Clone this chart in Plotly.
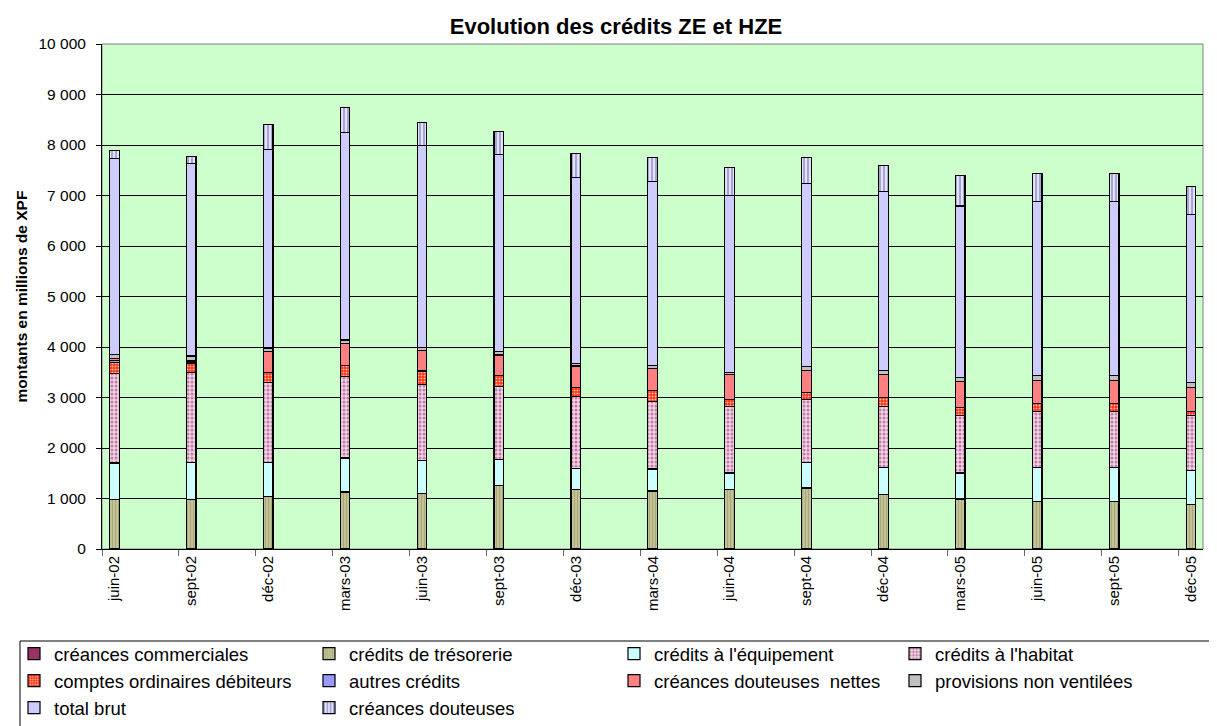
import plotly.graph_objects as go

# periods (quarterly)
periods = ["juin-02", "sept-02", "déc-02", "mars-03", "juin-03", "sept-03", "déc-03", "mars-04",
           "juin-04", "sept-04", "déc-04", "mars-05", "juin-05", "sept-05", "déc-05"]

# stacked series, bottom to top (millions de XPF)
creances_commerciales = [0, 0, 0, 0, 0, 0, 0, 0, 0, 0, 0, 0, 0, 0, 0]
credits_tresorerie = [978, 978, 1044, 1130, 1097, 1256, 1176, 1150, 1176, 1210, 1077, 991, 939, 936, 879]
credits_equipement = [727, 740, 674, 674, 654, 515, 423, 436, 331, 508, 542, 516, 680, 683, 674]
credits_habitat = [1771, 1785, 1586, 1606, 1501, 1454, 1428, 1342, 1322, 1243, 1210, 1137, 1104, 1104, 1091]
comptes_ordinaires = [225, 165, 186, 225, 271, 218, 179, 211, 132, 132, 178, 152, 159, 159, 80]
autres_credits = [25, 25, 0, 0, 0, 0, 0, 0, 0, 0, 0, 0, 0, 0, 0]
creances_douteuses_nettes = [41, 28, 416, 430, 410, 397, 416, 430, 489, 443, 450, 515, 462, 462, 482]
provisions_non_ventilees = [86, 99, 73, 72, 52, 66, 59, 66, 53, 79, 79, 86, 93, 93, 99]
total_brut = [3880, 3807, 3939, 4118, 3999, 3913, 3682, 3642, 3503, 3616, 3536, 3397, 3437, 3437, 3324]
creances_douteuses = [152, 139, 482, 483, 469, 456, 469, 482, 549, 522, 529, 595, 561, 561, 542]

series = [
    ("créances commerciales", creances_commerciales, "#993366", None),
    ("crédits de trésorerie", credits_tresorerie, "#C2C294", dict(shape="|", fgcolor="#A5A57A", size=3, solidity=0.3)),
    ("crédits à l'équipement", credits_equipement, "#CCFFFF", None),
    ("crédits à l'habitat", credits_habitat, "#F2D2E6", dict(shape=".", fgcolor="#C080A6", size=4, solidity=0.45)),
    ("comptes ordinaires débiteurs", comptes_ordinaires, "#FF2A10", dict(shape=".", fgcolor="#FFC0A0", size=3, solidity=0.4)),
    ("autres crédits", autres_credits, "#9999FF", None),
    ("créances douteuses  nettes", creances_douteuses_nettes, "#FF8080", None),
    ("provisions non ventilées", provisions_non_ventilees, "#C0C0C0", None),
    ("total brut", total_brut, "#CCCCFF", None),
    ("créances douteuses", creances_douteuses, "#E2E2FF", dict(shape="|", fgcolor="#7C7CB8", size=4, solidity=0.3)),
]

xpos = list(range(len(periods)))
offset = 0.16

# legend is laid out in 4 columns, filled row by row
legend_ids = ["legend", "legend2", "legend3", "legend4"]

fig = go.Figure()
for i, (name, values, color, pattern) in enumerate(series):
    marker = dict(color=color, line=dict(color="black", width=1.2))
    if pattern:
        marker["pattern"] = dict(bgcolor=color, fillmode="replace", **pattern)
    fig.add_trace(go.Bar(x=xpos, y=values, name=name, width=0.125, marker=marker,
                         legend=legend_ids[i % 4]))

# the page body adds an 8px margin, so the figure is 8px smaller than the window
W, H = 1209, 718
ML, MR, MT, MB = 94, 14, 36, 177
PW, PH = W - ML - MR, H - MT - MB
font = "Liberation Sans, Arial, sans-serif"

def legend_at(px):
    return dict(orientation="v", traceorder="normal",
                x=px / W, xref="container", xanchor="left",
                y=1 - 627 / H, yref="container", yanchor="top",
                borderwidth=0, bgcolor="rgba(0,0,0,0)",
                font=dict(size=18.5, family=font), itemwidth=30)

# legend frame (paper px -> paper fraction)
frame_l, frame_r, frame_t, frame_b = 12, 1202, 633, 740

fig.update_layout(
    width=W, height=H,
    barmode="stack",
    separators=", ",
    paper_bgcolor="white",
    plot_bgcolor="#CCFFCC",
    font=dict(family=font, size=15, color="black"),
    margin=dict(l=ML, r=MR, t=MT, b=MB, autoexpand=False),
    title=dict(text="<b>Evolution des crédits ZE et HZE</b>", font=dict(size=22, family=font),
               x=608 / W, xref="container", xanchor="center",
               y=1 - 18 / H, yref="container", yanchor="middle"),
    xaxis=dict(
        range=[-offset, len(periods) - 1 + 0.156],
        tickmode="array", tickvals=xpos, ticktext=periods, tickangle=-90,
        ticks="", showgrid=False, zeroline=False,
        showline=True, linecolor="black", linewidth=1,
        tickfont=dict(size=15),
        minor=dict(tickmode="array", tickvals=[i - offset for i in xpos],
                   ticks="outside", ticklen=6, tickcolor="#666666", showgrid=False),
        automargin=False,
    ),
    yaxis=dict(
        range=[0, 10000], dtick=1000, tickformat=",d",
        showgrid=True, gridcolor="black", gridwidth=1,
        ticks="outside", ticklen=5, tickcolor="black", ticklabelstandoff=7,
        showline=True, linecolor="black", linewidth=1, zeroline=False,
        tickfont=dict(size=15.5),
        automargin=False,
    ),
    legend=legend_at(6),
    legend2=legend_at(301),
    legend3=legend_at(606),
    legend4=legend_at(887),
    annotations=[
        dict(text="<b>montants en millions de XPF</b>", textangle=-90,
             xref="paper", yref="paper", x=(13 - ML) / PW, y=0.5,
             xanchor="center", yanchor="middle", showarrow=False,
             font=dict(size=15.5, family=font)),
    ],
    shapes=[
        dict(type="rect", xref="paper", yref="paper", x0=0, x1=1, y0=0, y1=1,
             line=dict(color="#808080", width=1), layer="below"),
        dict(type="rect", xref="paper", yref="paper",
             x0=(frame_l - ML) / PW, x1=(frame_r - ML) / PW,
             y0=(MT + PH - frame_t) / PH, y1=(MT + PH - frame_b) / PH,
             line=dict(color="black", width=1), fillcolor="rgba(0,0,0,0)"),
    ],
)

fig.write_html("out.html")
